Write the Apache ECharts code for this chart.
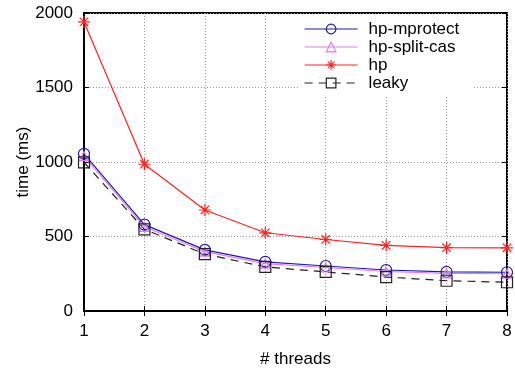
<!DOCTYPE html>
<html>
<head>
<meta charset="utf-8">
<script src="https://cdn.jsdelivr.net/npm/echarts@6/dist/echarts.min.js"></script>
<style>
  html, body { margin: 0; padding: 0; background: #fff; }
  #chart { width: 515px; height: 369px; }
</style>
</head>
<body>
<div id="chart"></div>
<script>
// thread counts on the x axis
const threads = [1, 2, 3, 4, 5, 6, 7, 8];
// run time in ms for each variant
const hpMprotect = [1055, 580, 410, 330, 302, 275, 262, 260];
const hpSplitCas = [1040, 565, 398, 318, 292, 265, 252, 250];
const hp = [1940, 985, 678, 525, 480, 441, 425, 424];
const leaky = [998, 548, 382, 296, 262, 228, 203, 193];
const yTicks = [0, 500, 1000, 1500, 2000];

const FONT = 'Liberation Sans, Arial, sans-serif';
const pair = (ys) => threads.map((t, i) => [t, ys[i]]);

// asterisk marker: plus and cross strokes
const asterisk = 'path://M0,-10L0,10M-10,0L10,0M-7,-7L7,7M7,-7L-7,7';

function makeSeries(name, values, color, symbol, size, dashed) {
  return {
    name: name,
    type: 'line',
    data: pair(values),
    symbol: symbol,
    symbolSize: size,
    showAllSymbol: true,
    lineStyle: { color: color, width: 1.2, type: dashed ? [8, 6] : 'solid' },
    itemStyle: { color: 'rgba(0,0,0,0)', borderColor: color, borderWidth: 1.2 },
    emphasis: { disabled: true },
    z: 3
  };
}

const chart = echarts.init(document.getElementById('chart'), null, { renderer: 'canvas' });

const tickStyle = { show: true, inside: true, length: 5, lineStyle: { color: '#000', width: 1 } };

chart.setOption({
  animation: false,
  backgroundColor: '#fff',
  textStyle: { fontFamily: FONT },
  grid: {
    left: 84, right: 8, top: 13, bottom: 58,
    outerBoundsMode: 'none', containLabel: false,
    show: true, borderColor: '#000', borderWidth: 2, backgroundColor: 'transparent'
  },
  legend: {
    orient: 'vertical',
    left: 300, top: 16,
    padding: [4, 14, 4, 4],
    itemWidth: 53, itemHeight: 12, itemGap: 0,
    backgroundColor: '#fff',
    lineStyle: { width: 1.2 },
    itemStyle: { borderWidth: 1.2 },
    textStyle: { fontFamily: FONT, fontSize: 17, lineHeight: 18, color: '#000', padding: [0, 0, 0, 6] },
    data: ['hp-mprotect', 'hp-split-cas', 'hp', 'leaky']
  },
  xAxis: [{
    type: 'value', min: 1, max: 8, interval: 1,
    name: '# threads', nameLocation: 'middle', nameGap: 40, nameMoveOverlap: false,
    nameTextStyle: { fontFamily: FONT, fontSize: 17, color: '#000' },
    axisLine: { show: true, lineStyle: { color: '#000', width: 2 } },
    axisTick: tickStyle,
    axisLabel: { fontFamily: FONT, fontSize: 17, color: '#000', margin: 12 },
    splitLine: { show: true, lineStyle: { color: '#999', type: [1, 2], width: 1 } }
  }, {
    type: 'value', min: 1, max: 8, interval: 1, position: 'top',
    axisLine: { show: false }, axisTick: tickStyle,
    axisLabel: { show: false }, splitLine: { show: false }
  }],
  yAxis: [{
    type: 'value', min: yTicks[0], max: yTicks[yTicks.length - 1], interval: 500,
    name: 'time (ms)', nameLocation: 'middle', nameGap: 52, nameMoveOverlap: false,
    nameTextStyle: { fontFamily: FONT, fontSize: 17, color: '#000' },
    axisLine: { show: true, lineStyle: { color: '#000', width: 2 } },
    axisTick: tickStyle,
    axisLabel: { fontFamily: FONT, fontSize: 17, color: '#000', margin: 11, formatter: (v) => String(v) },
    splitLine: { show: true, lineStyle: { color: '#999', type: [1, 2], width: 1 } }
  }, {
    type: 'value', min: yTicks[0], max: yTicks[yTicks.length - 1], interval: 500, position: 'right',
    axisLine: { show: false }, axisTick: tickStyle,
    axisLabel: { show: false }, splitLine: { show: false }
  }],
  series: [
    makeSeries('hp-mprotect', hpMprotect, '#1c1ca8', 'circle', 11, false),
    makeSeries('hp-split-cas', hpSplitCas, '#e07ee8', 'triangle', 9, false),
    makeSeries('hp', hp, '#ff2222', asterisk, 12, false),
    makeSeries('leaky', leaky, '#222', 'rect', 11, true)
  ]
});
</script>
</body>
</html>
